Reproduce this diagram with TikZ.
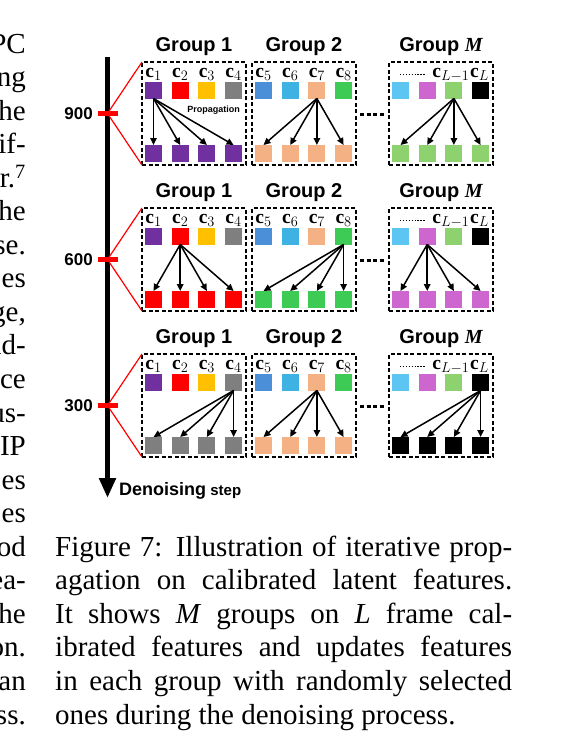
\documentclass[tikz,border=0pt]{standalone}
\usepackage{fontspec}
\usepackage{amsmath}
\setmainfont{Liberation Serif}
\setsansfont{Liberation Sans}
\usetikzlibrary{arrows.meta,calc}
\definecolor{cPur}{HTML}{7030A0}
\definecolor{cRed}{HTML}{FF0000}
\definecolor{cYel}{HTML}{FFC000}
\definecolor{cGry}{HTML}{7F7F7F}
\definecolor{cBlu}{HTML}{4A8FD8}
\definecolor{cSky}{HTML}{3FB2E4}
\definecolor{cSal}{HTML}{F4B183}
\definecolor{cGrn}{HTML}{3DCB55}
\definecolor{cLbl}{HTML}{5DC5F2}
\definecolor{cMag}{HTML}{CD66CF}
\definecolor{cLgr}{HTML}{8ED26F}
\definecolor{cBlk}{HTML}{000000}
\colorlet{col-1-1}{cPur}\colorlet{col-1-2}{cRed}\colorlet{col-1-3}{cYel}\colorlet{col-1-4}{cGry}
\colorlet{col-2-1}{cBlu}\colorlet{col-2-2}{cSky}\colorlet{col-2-3}{cSal}\colorlet{col-2-4}{cGrn}
\colorlet{col-3-1}{cLbl}\colorlet{col-3-2}{cMag}\colorlet{col-3-3}{cLgr}\colorlet{col-3-4}{cBlk}
\tikzset{
  gbox/.style={draw=black, line width=1.6pt, dash pattern=on 4pt off 2.5pt,
    minimum width=104pt, minimum height=103pt, inner sep=0pt, outer sep=0pt},
  sq/.style={minimum size=17pt, inner sep=0pt, outer sep=0pt},
  prop/.style={line width=1.5pt, -{Triangle[length=7pt,width=6.5pt]}},
  gtitle/.style={font=\sffamily\bfseries\fontsize{20}{24}\selectfont, anchor=base, inner sep=0pt},
  clabel/.style={font=\fontsize{19.5}{22}\selectfont, anchor=base, inner sep=0pt},
  redline/.style={draw=red, line width=1.2pt},
  ticklab/.style={font=\sffamily\bfseries\fontsize{17}{20}\selectfont, anchor=east, inner sep=0pt},
  bodytext/.style={font=\fontsize{29}{33.5}\selectfont, inner sep=0pt},
  bigdots/.style={line width=3.5pt, dash pattern=on 4pt off 2.5pt},
  smalldots/.style={line width=1.3pt, dash pattern=on 1.3pt off 1.6pt}
}
\begin{document}
\begin{tikzpicture}[x=1pt,y=-1pt]
\useasboundingbox (0,0) rectangle (562,750);
\fill[white] (0,0) rectangle (562,750);

% left column fragments
\foreach \i/\t in {0/PC,1/ng,2/he,3/if-,4/{r.\textsuperscript{7}},5/he,6/se.,7/es,8/{ge,},9/nd-,10/ce,11/us-,12/IP,13/es,14/es,15/od,16/ea-,17/he,18/on.,19/an,20/ss.}{
  \node[bodytext, anchor=base east] (lc\i) at (26,{53+33.55*\i}) {\t};
}

% caption
\node[bodytext, anchor=base west] (cap1) at (55,556.25) {\makebox[457pt][s]{Figure 7: Illustration of iterative prop-}};
\node[bodytext, anchor=base west] (cap2) at (55,589.8) {\makebox[457pt][s]{agation on calibrated latent features.}};
\node[bodytext, anchor=base west] (cap3) at (55,623.35) {\makebox[457pt][s]{It shows \textit{M} groups on \textit{L} frame cal-}};
\node[bodytext, anchor=base west] (cap4) at (55,656.9) {\makebox[457pt][s]{ibrated features and updates features}};
\node[bodytext, anchor=base west] (cap5) at (55,690.45) {\makebox[457pt][s]{in each group with randomly selected}};
\node[bodytext, anchor=base west] (cap6) at (55,724) {ones during the denoising process.};

% axis
\coordinate (axtop) at (107.5,57);
\coordinate (axend) at (107.5,498);
\draw[line width=5pt, -{Triangle[length=20pt,width=16pt]}] (axtop) -- (axend);
\node[anchor=base west, inner sep=0pt] (denoise) at (119,495)
  {\sffamily\bfseries\fontsize{18}{20}\selectfont Denoising\fontsize{15}{18}\selectfont\ step};

% rows
\foreach \r/\yc/\val in {1/113.5/900,2/259.5/600,3/405.5/300}{
  \foreach \g/\L in {1/142,2/252,3/389}{
    \node[gbox] (box\r\g) at (\L+52,\yc) {};
    \foreach \k in {1,2,3,4}{
      \node[sq, fill=col-\g-\k] (t\r\g\k) at ({\L+11.5+26.7*(\k-1)},\yc-23.5) {};
    }
  }
  \node[gtitle] (title\r1) at (194,\yc-62) {Group 1};
  \node[gtitle] (title\r2) at (304,\yc-62) {Group 2};
  \node[gtitle] (title\r3) at (441,\yc-62) {Group {\rmfamily\bfseries\itshape M}};
  % labels
  \foreach \k in {1,2,3,4}{
    \pgfmathtruncatemacro\kk{\k+4}
    \node[clabel] (l\r1\k) at ($(t\r1\k)+(0,-13)$) {$\mathbf{c}_{\k}$};
    \node[clabel] (l\r2\k) at ($(t\r2\k)+(0,-13)$) {$\mathbf{c}_{\kk}$};
  }
  \coordinate (dA\r) at ($(t\r31)+(-0.5,-15.5)$);
  \coordinate (dB\r) at ($(t\r32)+(-2,-15.5)$);
  \draw[smalldots] (dA\r) -- (dB\r);
  \node[clabel] (l\r33) at ($(t\r33)+(-3,-13)$) {$\mathbf{c}_{L-1}$};
  \node[clabel] (l\r34) at ($(t\r34)+(-1,-13)$) {$\mathbf{c}_{L}$};
  % dots between groups
  \coordinate (gA\r) at ($(box\r2.east)+(4,1)$);
  \coordinate (gB\r) at ($(box\r3.west)+(-5,1)$);
  \draw[bigdots] (gA\r) -- (gB\r);
  % tick and red lines
  \node[inner sep=0pt, outer sep=0pt, minimum width=20pt, minimum height=5pt, fill=red] (tick\r) at (107.5,\yc) {};
  \draw[redline] (tick\r.center) -- (box\r1.north west);
  \draw[redline] (tick\r.center) -- (box\r1.south west);
  \node[ticklab] (val\r) at (93,\yc) {\val};
}

% bottom squares and propagation arrows
\foreach \r/\g/\s/\c in {1/1/1/cPur,1/2/3/cSal,1/3/3/cLgr,2/1/2/cRed,2/2/4/cGrn,2/3/2/cMag,3/1/4/cGry,3/2/3/cSal,3/3/4/cBlk}{
  \foreach \k in {1,2,3,4}{
    \node[sq, fill=\c] (b\r\g\k) at ($(t\r\g\k)+(0,63.5)$) {};
    \draw[prop] (t\r\g\s.south) -- (b\r\g\k.north);
  }
}
\node[font=\sffamily\bfseries\fontsize{9}{10}\selectfont, inner sep=0pt] (proptext) at (213.5,110) {Propagation};
\end{tikzpicture}
\end{document}
